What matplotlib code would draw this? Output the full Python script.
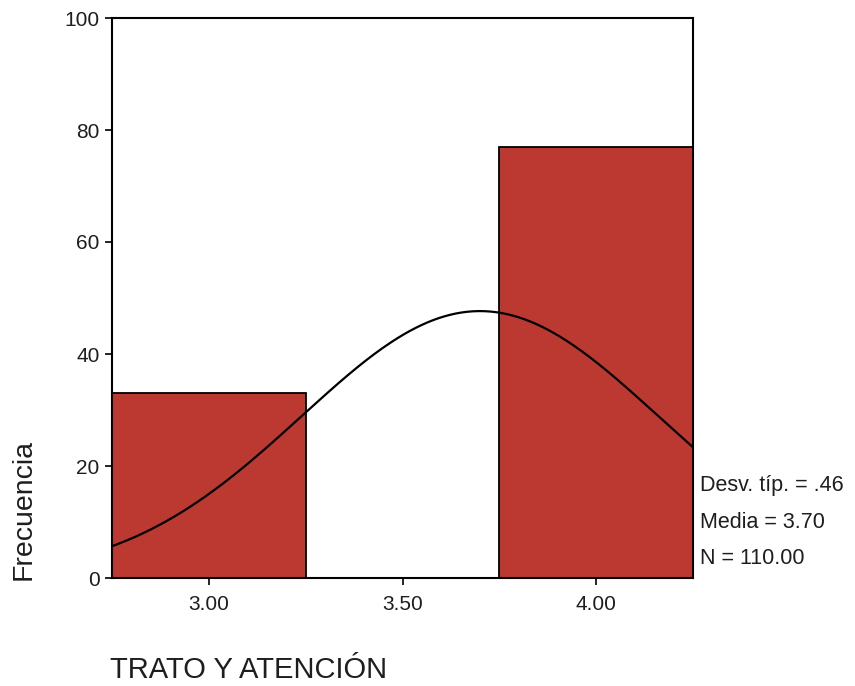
import numpy as np
import matplotlib
matplotlib.use("Agg")
import matplotlib.pyplot as plt

plt.rcParams['font.family'] = ['Liberation Sans', 'DejaVu Sans']

# Histogram data: TRATO Y ATENCIÓN scores
bin_centers = [3.00, 3.50, 4.00]
counts = [33, 0, 77]
bin_width = 0.5
x_ticks = [3.00, 3.50, 4.00]
x_tick_labels = ["3.00", "3.50", "4.00"]
y_ticks = [0, 20, 40, 60, 80, 100]

bar_color = "#BC3932"
text_color = "#1e1e1e"

fig = plt.figure(figsize=(8.55, 6.86), dpi=100)
ax = fig.add_axes([112 / 855, 1 - 578 / 686, (693 - 112) / 855, (578 - 18) / 686])

for c, n in zip(bin_centers, counts):
    if n > 0:
        ax.bar(c, n, width=bin_width, color=bar_color, edgecolor="black",
               linewidth=1.3, zorder=2)

# Normal curve fitted to the grouped data
vals = np.repeat(bin_centers, counts)
N = len(vals)
mean = vals.mean()
sd = vals.std(ddof=1)
xs = np.linspace(2.75, 4.25, 300)
ys = N * bin_width * np.exp(-0.5 * ((xs - mean) / sd) ** 2) / (sd * np.sqrt(2 * np.pi))
ax.plot(xs, ys, color="black", linewidth=1.6, zorder=3)

ax.set_xlim(2.75, 4.25)
ax.set_ylim(0, 100)
ax.set_xticks(x_ticks)
ax.set_xticklabels(x_tick_labels)
ax.set_yticks(y_ticks)
ax.tick_params(axis="both", direction="out", length=5, width=1.2,
               labelsize=15, colors="black", labelcolor=text_color)
ax.tick_params(axis="x", pad=7)
ax.tick_params(axis="y", pad=4)
for s in ax.spines.values():
    s.set_linewidth(1.5)
    s.set_color("black")

fig.text(24 / 855, 1 - 510 / 686, "Frecuencia", rotation=90, fontsize=20.5,
         ha="center", va="center", color=text_color)
fig.text(110 / 855, 1 - 678 / 686, "TRATO Y ATENCIÓN", fontsize=21,
         ha="left", va="baseline", color=text_color)

stats = [f"Desv. típ. = {sd:.2f}".replace("0.", "."),
         f"Media = {mean:.2f}",
         f"N = {N:.2f}"]
for i, t in enumerate(stats):
    fig.text(700 / 855, 1 - (486 + i * 36) / 686, t, fontsize=15.5,
             ha="left", va="center", color=text_color)

fig.savefig("out.png", dpi=100)
